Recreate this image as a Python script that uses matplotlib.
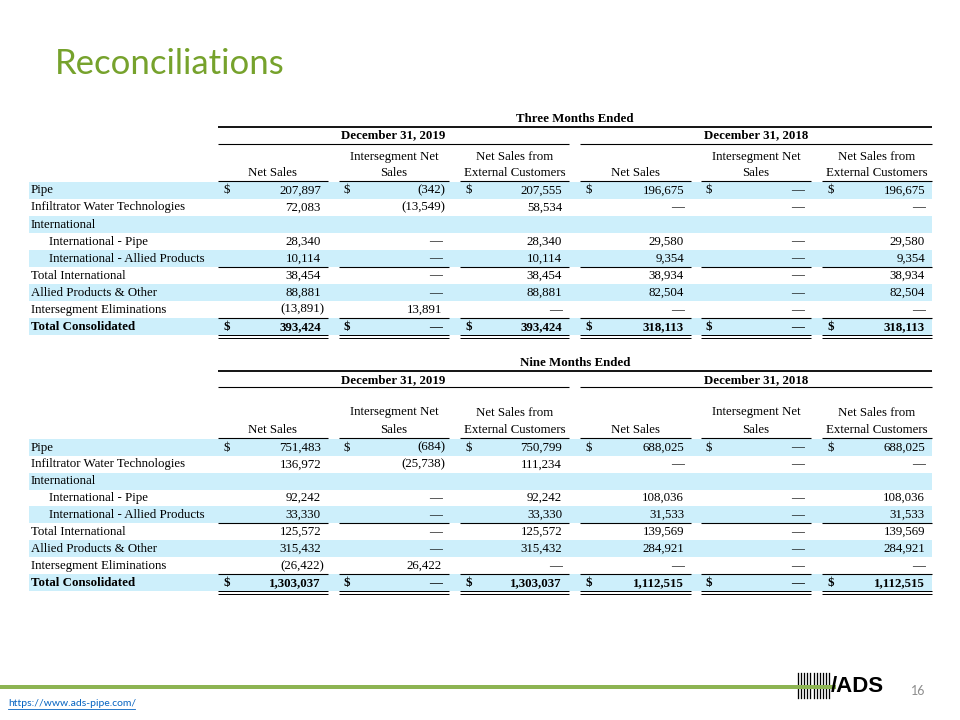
import matplotlib
matplotlib.use("Agg")
import matplotlib.pyplot as plt
from matplotlib.patches import Rectangle

# ---------------- data ----------------
row_labels = ["Pipe", "Infiltrator Water Technologies", "International",
              "International - Pipe", "International - Allied Products",
              "Total International", "Allied Products & Other",
              "Intersegment Eliminations", "Total Consolidated"]
row_indent = [False, False, False, True, True, False, False, False, False]
col_headers = [["Net Sales"], ["Intersegment Net", "Sales"],
               ["Net Sales from", "External Customers"]]
period_titles = ["Three Months Ended", "Nine Months Ended"]
year_titles = ["December 31, 2019", "December 31, 2018"]

# None = blank, 0 = dash
q_2019_net = [207897, 72083, None, 28340, 10114, 38454, 88881, -13891, 393424]
q_2019_inter = [-342, -13549, None, 0, 0, 0, 0, 13891, 0]
q_2019_ext = [207555, 58534, None, 28340, 10114, 38454, 88881, 0, 393424]
q_2018_net = [196675, 0, None, 29580, 9354, 38934, 82504, 0, 318113]
q_2018_inter = [0, 0, None, 0, 0, 0, 0, 0, 0]
q_2018_ext = [196675, 0, None, 29580, 9354, 38934, 82504, 0, 318113]

n_2019_net = [751483, 136972, None, 92242, 33330, 125572, 315432, -26422, 1303037]
n_2019_inter = [-684, -25738, None, 0, 0, 0, 0, 26422, 0]
n_2019_ext = [750799, 111234, None, 92242, 33330, 125572, 315432, 0, 1303037]
n_2018_net = [688025, 0, None, 108036, 31533, 139569, 284921, 0, 1112515]
n_2018_inter = [0, 0, None, 0, 0, 0, 0, 0, 0]
n_2018_ext = [688025, 0, None, 108036, 31533, 139569, 284921, 0, 1112515]

dollar_rows = [0, 8]
bold_rows = [8]
single_rule_after = [4, 7]

tables = [
    [q_2019_net, q_2019_inter, q_2019_ext, q_2018_net, q_2018_inter, q_2018_ext],
    [n_2019_net, n_2019_inter, n_2019_ext, n_2018_net, n_2018_inter, n_2018_ext],
]

# ---------------- layout ----------------
fig = plt.figure(figsize=(9.6, 7.2), dpi=100)
ax = fig.add_axes([0, 0, 1, 1])
ax.set_xlim(0, 960)
ax.set_ylim(720, 0)
ax.axis("off")

SERIF = "Liberation Serif"
FS = 9.3
BAND = "#CDEFFB"
PX = 0.72  # points per pixel

col_start = [218, 339, 460, 580, 701, 822]
col_end = [328, 449, 569, 691, 811, 932]
band_x0, band_x1 = 29, 932
label_x, indent_x = 31, 49

anchors = [
    dict(period=119, prule=127, year=135.5, yrule=143.5, h1=157, h2=173.5, hrule=181, row0=190.4, pitch=17.05),
    dict(period=363.5, prule=370.5, year=380, yrule=386.5, h1=412.5, h2=430, hrule=437.7, row0=447.5, pitch=16.9),
]


def fmt(v):
    if v == 0:
        return "\u2014"
    if v < 0:
        return "({:,})".format(-v)
    return "{:,}".format(v)


for t, (vals, a) in enumerate(zip(tables, anchors)):
    ax.text((col_start[0] + col_end[-1]) / 2, a["period"], period_titles[t],
            ha="center", va="center", fontsize=FS, fontweight="bold", family=SERIF)
    ax.plot([col_start[0], col_end[-1]], [a["prule"], a["prule"]], color="black", lw=1.8 * PX,
            solid_capstyle="butt")
    for g in range(2):
        x0, x1 = col_start[3 * g], col_end[3 * g + 2]
        ax.text((x0 + x1) / 2, a["year"], year_titles[g], ha="center", va="center",
                fontsize=FS, fontweight="bold", family=SERIF)
        ax.plot([x0, x1], [a["yrule"], a["yrule"]], color="black", lw=1.1 * PX, solid_capstyle="butt")
    for c in range(6):
        hdr = col_headers[c % 3]
        cx = (col_start[c] + col_end[c]) / 2
        if len(hdr) == 1:
            ax.text(cx, a["h2"], hdr[0], ha="center", va="center", fontsize=FS, family=SERIF)
        else:
            ax.text(cx, a["h1"], hdr[0], ha="center", va="center", fontsize=FS, family=SERIF)
            ax.text(cx, a["h2"], hdr[1], ha="center", va="center", fontsize=FS, family=SERIF)
        ax.plot([col_start[c], col_end[c]], [a["hrule"], a["hrule"]], color="black",
                lw=1.1 * PX, solid_capstyle="butt")
    for r, lab in enumerate(row_labels):
        yc = a["row0"] + r * a["pitch"]
        if r % 2 == 0:
            ax.add_patch(Rectangle((band_x0, yc - a["pitch"] / 2 - 0.2), band_x1 - band_x0, a["pitch"],
                                   facecolor=BAND, edgecolor="none", zorder=0))
        bold = r in bold_rows
        ax.text(indent_x if row_indent[r] else label_x, yc, lab, ha="left", va="center",
                fontsize=FS, family=SERIF, fontweight="bold" if bold else "normal")
        for c in range(6):
            v = vals[c][r]
            if v is None:
                continue
            if r in dollar_rows:
                ax.text(col_start[c] + 5, yc, "$", ha="left", va="center", fontsize=FS,
                        family=SERIF, fontweight="bold" if bold else "normal")
            s = fmt(v)
            xr = col_end[c] - (3.5 if v < 0 else 7)
            ax.text(xr, yc, s, ha="right", va="center", fontsize=FS, family=SERIF,
                    fontweight="bold" if bold else "normal")
        if r in single_rule_after:
            yl = yc + a["pitch"] / 2 - 0.5
            for c in range(6):
                ax.plot([col_start[c], col_end[c]], [yl, yl], color="black", lw=1.1 * PX,
                        solid_capstyle="butt")
        if r == len(row_labels) - 1:
            yl = yc + a["pitch"] / 2 - 0.2
            for c in range(6):
                for dy in (0, 2.6):
                    ax.plot([col_start[c], col_end[c]], [yl + dy, yl + dy], color="black",
                            lw=1.0 * PX, solid_capstyle="butt")

# ---------------- title ----------------
ax.text(55, 64, "Reconciliations", ha="left", va="center", fontsize=25, color="#76A22C",
        family="Lato")

# ---------------- footer ----------------
ax.plot([0, 836], [686.5, 686.5], color="#8DB452", lw=4 * PX, solid_capstyle="butt", zorder=3)
for i in range(11):
    x = 798 + i * 3.1
    ax.plot([x, x], [673, 698], color="black", lw=1.3 * PX, zorder=2)
ax.text(831, 686, "/ADS", ha="left", va="center", fontsize=16, fontweight="bold",
        family="Liberation Sans", color="black", zorder=4)
ax.text(918, 691, "16", ha="center", va="center", fontsize=9, color="#8C8C8C", family="Lato")
ax.text(8, 703, "https://www.ads-pipe.com/", ha="left", va="center", fontsize=7.5,
        color="#0563C1", family="Lato")
ax.plot([8, 135], [708.5, 708.5], color="#0563C1", lw=0.6)

fig.savefig("out.png", dpi=100, facecolor="white")
